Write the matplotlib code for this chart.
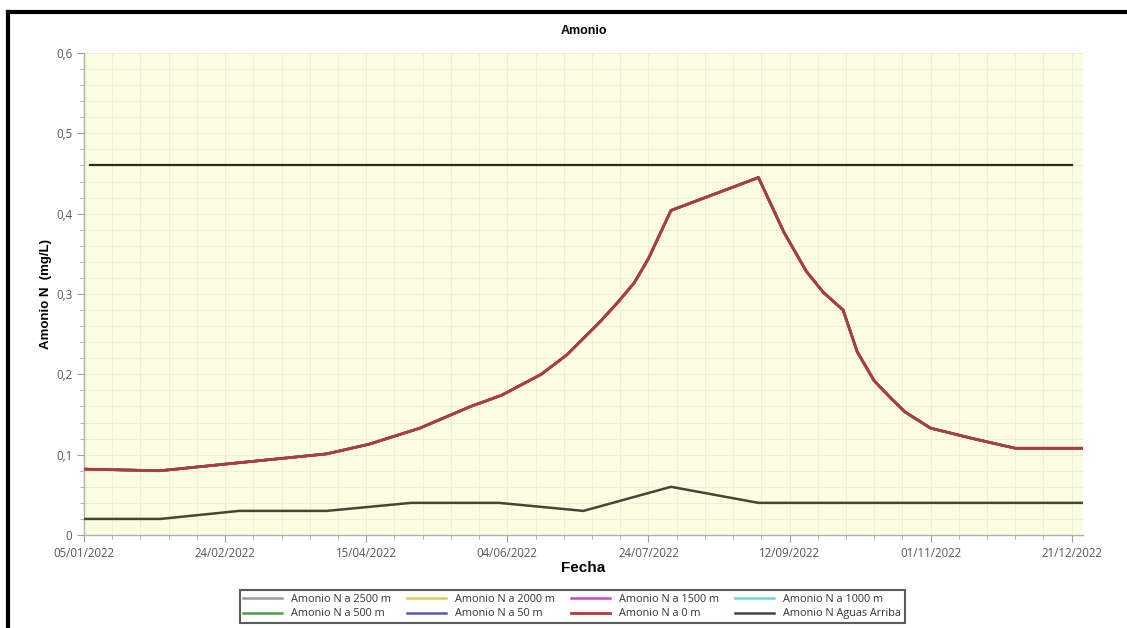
import matplotlib
matplotlib.use("Agg")
import matplotlib.pyplot as plt
import matplotlib.dates as mdates
from matplotlib.lines import Line2D
from matplotlib.ticker import MultipleLocator, FuncFormatter
import datetime as dt

# ---------------- data ----------------
fechas_rio = ["2022-01-05", "2022-02-01", "2022-03-01", "2022-04-01", "2022-04-16",
              "2022-05-04", "2022-05-22", "2022-06-02", "2022-06-16", "2022-06-25",
              "2022-07-07", "2022-07-13", "2022-07-19", "2022-07-24", "2022-07-28",
              "2022-08-01", "2022-09-01", "2022-09-10", "2022-09-18", "2022-09-24",
              "2022-10-01", "2022-10-06", "2022-10-12", "2022-10-18", "2022-10-23",
              "2022-11-01", "2022-11-16", "2022-12-01", "2022-12-25"]
amonio_rio = [0.082, 0.080, 0.090, 0.101, 0.113,
              0.133, 0.160, 0.174, 0.200, 0.224,
              0.266, 0.289, 0.314, 0.344, 0.374,
              0.404, 0.445, 0.377, 0.328, 0.302,
              0.280, 0.228, 0.192, 0.170, 0.153,
              0.133, 0.120, 0.108, 0.108]

fechas_arriba = ["2022-01-05", "2022-02-01", "2022-03-01", "2022-04-01", "2022-05-01",
                 "2022-06-01", "2022-07-01", "2022-08-01", "2022-09-01", "2022-12-25"]
amonio_arriba = [0.02, 0.02, 0.03, 0.03, 0.04, 0.04, 0.03, 0.06, 0.04, 0.04]

fechas_limite = ["2022-01-07", "2022-12-21"]
amonio_limite = [0.46, 0.46]

series_labels = ["Amonio N a 2500 m", "Amonio N a 2000 m", "Amonio N a 1500 m",
                 "Amonio N a 1000 m", "Amonio N a 500 m", "Amonio N a 50 m",
                 "Amonio N a 0 m", "Amonio N Aguas Arriba"]
series_colors = ["#9a9a9a", "#e3c75a", "#c546c8", "#6fd3dc",
                 "#4a9e4a", "#5558b0", "#b23a3a", "#45453a"]

x_ticks = ["05/01/2022", "24/02/2022", "15/04/2022", "04/06/2022",
           "24/07/2022", "12/09/2022", "01/11/2022", "21/12/2022"]

def to_dates(lst):
    return [dt.datetime.strptime(s, "%Y-%m-%d") for s in lst]

# ---------------- figure ----------------
W, H = 1127, 628
fig = plt.figure(figsize=(W / 100, H / 100), dpi=100)
fig.patch.set_facecolor("white")
ax = fig.add_axes([84 / W, 1 - 535 / H, (1083 - 84) / W, (535 - 53) / H])
ax.set_facecolor("#fdfde4")

xr = to_dates(fechas_rio)
handles = []
for lab, col in zip(series_labels[:7], series_colors[:7]):
    lw = 2.0 if lab == "Amonio N a 0 m" else 1.8
    h, = ax.plot(xr, amonio_rio, color=col, lw=lw, label=lab, zorder=3)
    handles.append(h)
h_arr, = ax.plot(to_dates(fechas_arriba), amonio_arriba, color=series_colors[7],
                 lw=1.8, label=series_labels[7], zorder=3)
handles.append(h_arr)
ax.plot(to_dates(fechas_limite), amonio_limite, color="#2a2a20", lw=1.6, zorder=3)

# axes limits & ticks
x0 = dt.datetime(2022, 1, 5)
ax.set_xlim(x0, dt.datetime(2022, 12, 25))
ax.set_ylim(0, 0.6)
tick_dates = [dt.datetime.strptime(s, "%d/%m/%Y") for s in x_ticks]
ax.set_xticks(tick_dates)
ax.set_xticklabels(x_ticks)
minor = [mdates.date2num(x0 + dt.timedelta(days=10 * i)) for i in range(36)]
ax.set_xticks(minor, minor=True)
ax.yaxis.set_major_locator(MultipleLocator(0.1))
ax.yaxis.set_minor_locator(MultipleLocator(0.02))
ax.yaxis.set_major_formatter(FuncFormatter(
    lambda v, p: "0" if abs(v) < 1e-9 else f"{v:.1f}".replace(".", ",")))

ax.grid(True, which="both", color="#efeed2", lw=0.8, zorder=0)
ax.set_axisbelow(True)
for s in ["top", "right"]:
    ax.spines[s].set_visible(False)
for s in ["left", "bottom"]:
    ax.spines[s].set_color("#b0b0b0")
    ax.spines[s].set_linewidth(1.0)
ax.tick_params(which="both", colors="#a0a0a0", labelcolor="#555555",
               labelsize=8.3, direction="out")
ax.tick_params(which="major", length=5)
ax.tick_params(which="minor", length=3)
for lbl in ax.get_xticklabels() + ax.get_yticklabels():
    lbl.set_family("Open Sans")

ax.set_title("Amonio", fontsize=9, fontweight="bold", family="Liberation Sans", pad=14)
ax.set_xlabel("Fecha", fontsize=11, fontweight="bold", family="Liberation Sans", labelpad=1)
ax.set_ylabel("Amonio N  (mg/L)", fontsize=9.5, fontweight="bold",
              family="Liberation Sans", labelpad=3)

# legend: row-wise ordering for 4 columns
order = [0, 4, 1, 5, 2, 6, 3, 7]
leg = fig.legend([handles[i] for i in order], [series_labels[i] for i in order],
                 loc="center", bbox_to_anchor=(572 / W, 1 - 606.5 / H), ncol=4,
                 frameon=True, fancybox=False, handlelength=3.6,
                 columnspacing=1.5, borderpad=0.35, labelspacing=0.35,
                 prop={"family": "Open Sans", "size": 7.8})
leg.get_frame().set_edgecolor("#333333")
leg.get_frame().set_linewidth(1.5)
for t in leg.get_texts():
    t.set_color("#333333")

# outer chart border (top and left visible)
fig.add_artist(Line2D([8 / W, 1.0], [1 - 12 / H, 1 - 12 / H], color="black",
                      lw=3, transform=fig.transFigure))
fig.add_artist(Line2D([8 / W, 8 / W], [0.0, 1 - 12 / H], color="black",
                      lw=3, transform=fig.transFigure))

fig.savefig("out.png", dpi=100, facecolor="white")
